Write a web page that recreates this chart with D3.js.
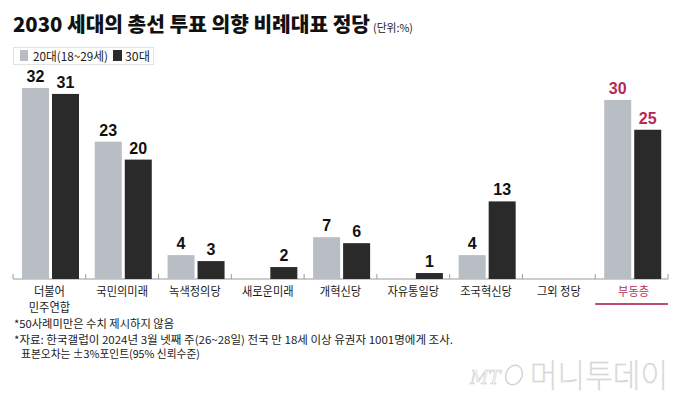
<!DOCTYPE html>
<html><head><meta charset="utf-8">
<script src="https://cdn.jsdelivr.net/npm/d3@7"></script>
<style>
body{margin:0;background:#fff;}
svg{display:block;}
</style></head>
<body>
<script>
const categories = ["더불어\n민주연합","국민의미래","녹색정의당","새로운미래","개혁신당","자유통일당","조국혁신당","그외 정당","부동층"];
const series = ["20대(18~29세)","30대"];
const values20 = [32,23,4,null,7,null,4,null,30];
const values30 = [31,20,3,2,6,1,13,null,25];
const highlight = "부동층";
const title = "2030 세대의 총선 투표 의향 비례대표 정당";
const unit = "(단위:%)";
const note1 = "*50사례미만은 수치 제시하지 않음";
const note2 = ["*자료: 한국갤럽이 2024년 3월 넷째 주(26~28일) 전국 만 18세 이상 유권자 1001명에게 조사.","표본오차는 ±3%포인트(95% 신뢰수준)"];

const W=680,H=397;
const colors={"20대(18~29세)":"#b9bec5","30대":"#2a2a2a"};
const hiColor="#b42a55";
const KR="'Noto Sans CJK KR','Noto Sans',sans-serif";
const NUM="'Liberation Sans Narrow','Liberation Sans',Arial,sans-serif";

const svg=d3.select("body").append("svg").attr("width",W).attr("height",H);

// title
svg.append("text").attr("x",13).attr("y",32).attr("font-family",KR).attr("font-weight",900)
  .attr("font-size",20).attr("fill","#111").attr("textLength",357).attr("lengthAdjust","spacingAndGlyphs").text(title);
svg.append("text").attr("x",373).attr("y",32).attr("font-family",KR)
  .attr("font-size",11).attr("fill","#222").attr("textLength",40).attr("lengthAdjust","spacingAndGlyphs").text(unit);

// legend
const lg=svg.append("g");
lg.append("rect").attr("x",13.5).attr("y",47.5).attr("width",140).attr("height",17).attr("fill","#fff").attr("stroke","#e2e2e2");
lg.append("rect").attr("x",20).attr("y",50).attr("width",8).attr("height",11).attr("fill",colors[series[0]]);
lg.append("text").attr("x",33).attr("y",60.5).attr("font-family",KR).attr("font-size",12).attr("fill","#222")
  .attr("textLength",75).attr("lengthAdjust","spacingAndGlyphs").text(series[0]);
lg.append("rect").attr("x",113).attr("y",50).attr("width",9).attr("height",11).attr("fill",colors[series[1]]);
lg.append("text").attr("x",125).attr("y",60.5).attr("font-family",KR).attr("font-size",12).attr("fill","#222")
  .attr("textLength",25).attr("lengthAdjust","spacingAndGlyphs").text(series[1]);

// scales
const x=d3.scaleBand().domain(categories).range([13,668]).paddingInner(0).paddingOuter(0);
const xi=d3.scaleBand().domain(series).range([9,66]).paddingInner(0.1);
const y=d3.scaleLinear().domain([0,35]).range([279,279-35*5.97]);

const data=categories.map((c,i)=>({cat:c,vals:[{s:series[0],v:values20[i]},{s:series[1],v:values30[i]}]}));

// axis
const axisG=svg.append("g").attr("transform",`translate(0,${y(0)})`);
axisG.append("line").attr("x1",13).attr("x2",668).attr("stroke","#9a9a9a").attr("stroke-width",1);
const bounds=categories.map(c=>x(c)).concat([x.range()[1]]);
axisG.selectAll(".tk").data(bounds).join("line").attr("x1",d=>d).attr("x2",d=>d).attr("y1",0).attr("y2",-5)
  .attr("stroke","#9a9a9a");

// bars
const g=svg.append("g");
const grp=g.selectAll(".grp").data(data).join("g").attr("transform",d=>`translate(${x(d.cat)},0)`);
grp.selectAll("rect").data(d=>d.vals.filter(v=>v.v!=null)).join("rect")
  .attr("x",d=>xi(d.s)).attr("width",xi.bandwidth())
  .attr("y",d=>y(d.v)).attr("height",d=>y(0)-y(d.v)).attr("fill",d=>colors[d.s]);
grp.each(function(d){
  const col=d.cat===highlight?hiColor:"#111";
  d3.select(this).selectAll("text.v").data(d.vals.filter(v=>v.v!=null)).join("text").attr("class","v")
    .attr("x",v=>xi(v.s)+xi.bandwidth()/2).attr("y",v=>y(v.v)-6)
    .attr("text-anchor","middle").attr("font-family",NUM).attr("font-weight",700).attr("font-size",16)
    .attr("fill",col).text(v=>v.v);
});

// category labels
data.forEach(d=>{
  const cx=x(d.cat)+x.bandwidth()/2+(d.cat===highlight?2:0);
  const lines=d.cat.split("\n");
  const t=svg.append("g").attr("transform",`translate(${cx},295.5) scale(0.9,1)`)
    .append("text").attr("text-anchor","middle")
    .attr("font-family",KR).attr("font-size",12.5).attr("fill",d.cat===highlight?"#b8315c":"#1a1a1a");
  lines.forEach((l,k)=>{
    t.append("tspan").attr("x",0).attr("y",k*16.5).text(l);
  });
});
// underline highlight
svg.append("line").attr("x1",x(highlight)).attr("x2",x(highlight)+x.bandwidth()).attr("y1",304).attr("y2",304)
  .attr("stroke","#c04a70").attr("stroke-width",2.2);

// notes
svg.append("text").attr("x",14).attr("y",328).attr("font-family",KR).attr("font-size",11)
  .attr("fill","#1a1a1a").attr("textLength",160).attr("lengthAdjust","spacingAndGlyphs").text(note1);
const n2=svg.append("text").attr("font-family",KR).attr("font-size",11).attr("fill","#1a1a1a");
n2.append("tspan").attr("x",14).attr("y",343.5).attr("textLength",439).attr("lengthAdjust","spacingAndGlyphs").text(note2[0]);
n2.append("tspan").attr("x",21).attr("y",358).attr("textLength",179).attr("lengthAdjust","spacingAndGlyphs").text(note2[1]);

// watermark
const wm=svg.append("g");
wm.append("text").attr("x",470).attr("y",384).attr("font-family","'DejaVu Serif',serif").attr("font-style","italic")
  .attr("font-size",18).attr("fill","#fff").attr("stroke","#d2d2d2").attr("stroke-width",0.7).text("MT");
wm.append("ellipse").attr("cx",514).attr("cy",375).attr("rx",8).attr("ry",10).attr("transform","rotate(25,514,375)")
  .attr("fill","none").attr("stroke","#d2d2d2").attr("stroke-width",1.4);
wm.append("text").attr("x",530).attr("y",387).attr("font-family",KR).attr("font-weight",100)
  .attr("font-size",32).attr("fill","#fff").attr("stroke","#cfcfcf").attr("stroke-width",0.7)
  .attr("textLength",138).attr("lengthAdjust","spacingAndGlyphs").text("머니투데이");
</script>
</body></html>
